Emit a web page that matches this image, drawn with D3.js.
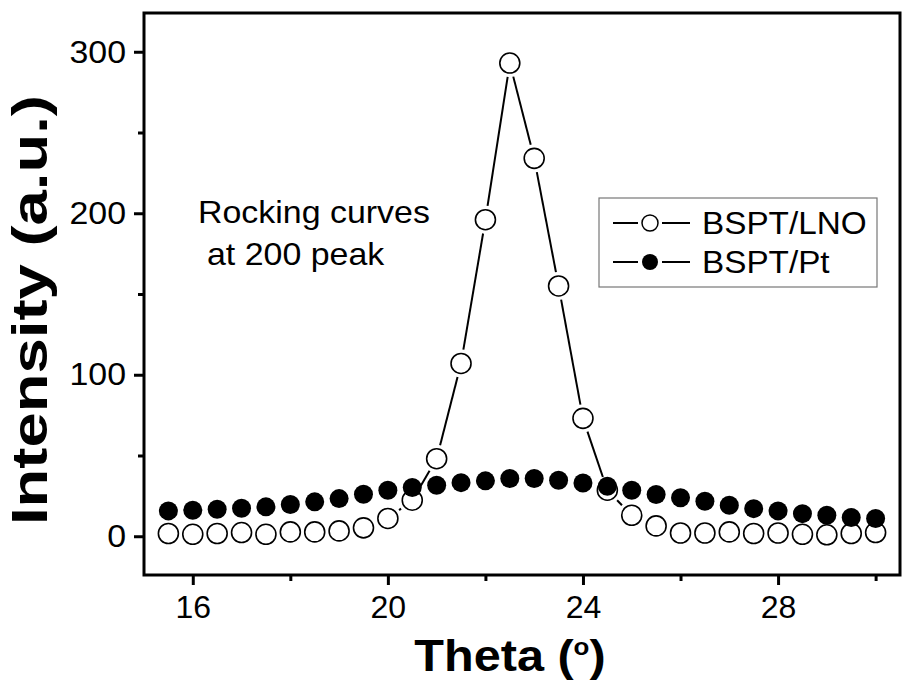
<!DOCTYPE html>
<html>
<head>
<meta charset="utf-8">
<script src="https://cdn.jsdelivr.net/npm/d3@7"></script>
<style>
  body { margin: 0; background: #fff; }
  text { font-family: "Liberation Sans", Arial, sans-serif; fill: #000; }
</style>
</head>
<body>
<div id="chart"></div>
<script>
// Rocking curves at the 200 peak, BSPT on LNO vs Pt
const theta = [15.5, 16, 16.5, 17, 17.5, 18, 18.5, 19, 19.5, 20, 20.5, 21, 21.5, 22, 22.5,
  23, 23.5, 24, 24.5, 25, 25.5, 26, 26.5, 27, 27.5, 28, 28.5, 29, 29.5, 30];
const lno = [1.7, 1.2, 1.7, 2.3, 1.2, 2.7, 2.7, 3.3, 5.2, 11, 22.3, 48, 107, 196, 293,
  234, 155, 73, 28.5, 13, 6.4, 2, 2, 2.7, 1.7, 2, 1.2, 0.9, 1.7, 2.3];
const pt = [15.7, 16.1, 16.7, 17.3, 18.2, 19.6, 21.3, 23.3, 26, 28.5, 30.2, 31.6, 33.2, 34.3, 35.7,
  35.7, 34.7, 33, 31, 28.5, 25.8, 23.8, 21.7, 19.2, 17.1, 15.7, 14, 13, 11.6, 11];
const xTicks = [16, 20, 24, 28];
const yTicks = [0, 100, 200, 300];
const seriesNames = ["BSPT/LNO", "BSPT/Pt"];

const W = 905, H = 686;
const plot = { left: 144, right: 900, top: 13, bottom: 575 };

const svg = d3.select("#chart").append("svg")
  .attr("width", W).attr("height", H);

// the source figure has slightly wide lettering
function widen(sel, k) {
  sel.each(function () {
    const len = this.getComputedTextLength();
    d3.select(this).attr("textLength", len * k).attr("lengthAdjust", "spacingAndGlyphs");
  });
}

const x = d3.scaleLinear().domain([15, 30.5]).range([plot.left, plot.right]);
const y = d3.scaleLinear().domain([-24, 324]).range([plot.bottom, plot.top]);

// axes: major ticks labelled, minor ticks in between
const xAxis = svg.append("g").attr("transform", `translate(0,${plot.bottom})`)
  .call(d3.axisBottom(x).tickValues(d3.range(16, 31, 2)).tickSize(10).tickFormat(d => xTicks.includes(d) ? d : ""));
const yAxis = svg.append("g").attr("transform", `translate(${plot.left},0)`)
  .call(d3.axisLeft(y).tickValues(d3.range(0, 301, 50)).tickSize(10).tickFormat(d => yTicks.includes(d) ? d : ""));

[xAxis, yAxis].forEach(a => {
  a.select(".domain").remove();
  a.selectAll(".tick line").attr("stroke", "#000").attr("stroke-width", 3);
  a.selectAll(".tick text").attr("font-size", "32px").attr("fill", "#000");
});
xAxis.selectAll(".tick").filter(d => !xTicks.includes(d)).select("line").attr("y2", 6);
yAxis.selectAll(".tick").filter(d => !yTicks.includes(d)).select("line").attr("x2", -6);
xAxis.selectAll(".tick text").attr("y", 20);
yAxis.selectAll(".tick text").attr("x", -18);
widen(yAxis.selectAll(".tick text"), 1.06);

// frame
svg.append("rect")
  .attr("x", plot.left).attr("y", plot.top)
  .attr("width", plot.right - plot.left).attr("height", plot.bottom - plot.top)
  .attr("fill", "none").attr("stroke", "#000").attr("stroke-width", 3);

// Origin-style connecting line with gaps around symbols
function gappedSegments(pts, gap) {
  const segs = [];
  for (let i = 0; i < pts.length - 1; i++) {
    const [x1, y1] = pts[i], [x2, y2] = pts[i + 1];
    const len = Math.hypot(x2 - x1, y2 - y1);
    if (len <= 2 * gap) continue;
    const ux = (x2 - x1) / len, uy = (y2 - y1) / len;
    segs.push([x1 + ux * gap, y1 + uy * gap, x2 - ux * gap, y2 - uy * gap]);
  }
  return segs;
}

function drawSeries(values, filled) {
  const pts = theta.map((t, i) => [x(t), y(values[i])]);
  svg.append("g").selectAll("line")
    .data(gappedSegments(pts, 14))
    .join("line")
    .attr("x1", d => d[0]).attr("y1", d => d[1])
    .attr("x2", d => d[2]).attr("y2", d => d[3])
    .attr("stroke", "#000").attr("stroke-width", 2);
  svg.append("g").selectAll("circle")
    .data(pts)
    .join("circle")
    .attr("cx", d => d[0]).attr("cy", d => d[1])
    .attr("r", filled ? 9.5 : 10)
    .attr("fill", filled ? "#000" : "#fff")
    .attr("stroke", "#000")
    .attr("stroke-width", filled ? 0 : 1.6);
}
drawSeries(lno, false);
drawSeries(pt, true);

// annotation
const note = svg.append("g");
note.append("text").attr("x", 198).attr("y", 223).attr("font-size", "32px").text("Rocking curves");
note.append("text").attr("x", 207).attr("y", 265).attr("font-size", "32px").text("at 200 peak");
widen(note.selectAll("text"), 1.06);

// legend
const lg = svg.append("g");
lg.append("rect").attr("x", 599).attr("y", 198).attr("width", 278).attr("height", 89)
  .attr("fill", "#fff").attr("stroke", "#777").attr("stroke-width", 1.2);
seriesNames.forEach((name, i) => {
  const cy = 223 + i * 39;
  lg.append("line").attr("x1", 613).attr("x2", 638).attr("y1", cy).attr("y2", cy).attr("stroke", "#000").attr("stroke-width", 2);
  lg.append("line").attr("x1", 662).attr("x2", 690).attr("y1", cy).attr("y2", cy).attr("stroke", "#000").attr("stroke-width", 2);
  lg.append("circle").attr("cx", 650).attr("cy", cy).attr("r", 8)
    .attr("fill", i === 0 ? "#fff" : "#000").attr("stroke", "#000").attr("stroke-width", i === 0 ? 1.5 : 0);
  lg.append("text").attr("x", 702).attr("y", cy + 11).attr("font-size", "32px").text(name);
});
widen(lg.selectAll("text"), 1.04);

// axis titles
const xt = svg.append("text").attr("x", 510).attr("y", 671).attr("text-anchor", "middle")
  .attr("font-size", "45px").attr("font-weight", "bold");
xt.append("tspan").text("Theta (");
xt.append("tspan").attr("font-size", "24px").attr("dy", -16).text("o");
xt.append("tspan").attr("dy", 16).text(")");
widen(xt, 1.08);

svg.append("text")
  .attr("transform", `translate(47,${(plot.top + plot.bottom) / 2 + 16}) rotate(-90)`)
  .attr("text-anchor", "middle")
  .attr("font-size", "50px").attr("font-weight", "bold")
  .attr("textLength", 430).attr("lengthAdjust", "spacingAndGlyphs")
  .text("Intensity (a.u.)");
</script>
</body>
</html>
